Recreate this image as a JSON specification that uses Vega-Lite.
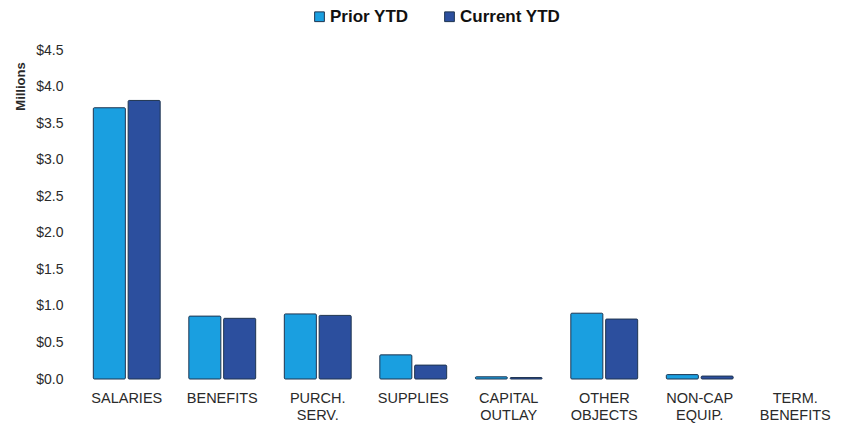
{
  "$schema": "https://vega.github.io/schema/vega-lite/v6.json",
  "autosize": "none",
  "width": 764,
  "height": 329,
  "padding": {"left": 79, "top": 50, "right": 2, "bottom": 45},
  "background": "white",
  "config": {"font": "Liberation Sans", "view": {"stroke": null}},
  "data": {
    "values": [
      {"category": "SALARIES", "series": "Prior YTD", "value": 3.71},
      {"category": "SALARIES", "series": "Current YTD", "value": 3.81},
      {"category": "BENEFITS", "series": "Prior YTD", "value": 0.86},
      {"category": "BENEFITS", "series": "Current YTD", "value": 0.83},
      {"category": "PURCH. SERV.", "series": "Prior YTD", "value": 0.89},
      {"category": "PURCH. SERV.", "series": "Current YTD", "value": 0.87},
      {"category": "SUPPLIES", "series": "Prior YTD", "value": 0.33},
      {"category": "SUPPLIES", "series": "Current YTD", "value": 0.19},
      {"category": "CAPITAL OUTLAY", "series": "Prior YTD", "value": 0.03},
      {"category": "CAPITAL OUTLAY", "series": "Current YTD", "value": 0.02},
      {"category": "OTHER OBJECTS", "series": "Prior YTD", "value": 0.9},
      {"category": "OTHER OBJECTS", "series": "Current YTD", "value": 0.82},
      {"category": "NON-CAP EQUIP.", "series": "Prior YTD", "value": 0.06},
      {"category": "NON-CAP EQUIP.", "series": "Current YTD", "value": 0.04},
      {"category": "TERM. BENEFITS", "series": "Prior YTD", "value": 0},
      {"category": "TERM. BENEFITS", "series": "Current YTD", "value": 0}
    ]
  },
  "transform": [{"filter": "datum.value > 0"}],
  "mark": {"type": "bar", "stroke": "#1f3550", "strokeWidth": 1, "cornerRadius": 1},
  "encoding": {
    "x": {
      "field": "category",
      "type": "nominal",
      "scale": {
        "domain": ["SALARIES", "BENEFITS", "PURCH. SERV.", "SUPPLIES", "CAPITAL OUTLAY", "OTHER OBJECTS", "NON-CAP EQUIP.", "TERM. BENEFITS"],
        "paddingInner": 0.3,
        "paddingOuter": 0.15
      },
      "axis": {
        "title": null,
        "labelAngle": 0,
        "domain": false,
        "ticks": false,
        "labelPadding": 12,
        "labelFontSize": 14.5,
        "labelColor": "#2a2a2a",
        "labelLineHeight": 17,
        "labelExpr": "split(datum.label, ' ')"
      }
    },
    "xOffset": {
      "field": "series",
      "type": "nominal",
      "scale": {"domain": ["Prior YTD", "Current YTD"], "paddingInner": 0.08}
    },
    "y": {
      "field": "value",
      "type": "quantitative",
      "stack": null,
      "scale": {"domain": [0, 4.5], "nice": false},
      "axis": {
        "title": "Millions",
        "titleFontSize": 13,
        "titleFontWeight": "bold",
        "titleColor": "#2a2a2a",
        "titleX": -59,
        "titleY": 36,
        "titleAngle": -90,
        "titleAlign": "center",
        "titleBaseline": "middle",
        "format": "$.1f",
        "values": [0, 0.5, 1, 1.5, 2, 2.5, 3, 3.5, 4, 4.5],
        "grid": false,
        "domain": false,
        "ticks": false,
        "labelPadding": 16,
        "labelFontSize": 14,
        "labelColor": "#2a2a2a"
      }
    },
    "color": {
      "field": "series",
      "type": "nominal",
      "scale": {"domain": ["Prior YTD", "Current YTD"], "range": ["#1a9fe0", "#2c4f9e"]},
      "legend": {
        "title": null,
        "orient": "none",
        "direction": "horizontal",
        "legendX": 232,
        "legendY": -42,
        "symbolType": "square",
        "symbolSize": 95,
        "symbolStrokeColor": "#1f3550",
        "symbolStrokeWidth": 1,
        "labelFontSize": 17,
        "labelFontWeight": "bold",
        "labelColor": "#111111",
        "labelOffset": 2,
        "columnPadding": 32
      }
    }
  }
}
